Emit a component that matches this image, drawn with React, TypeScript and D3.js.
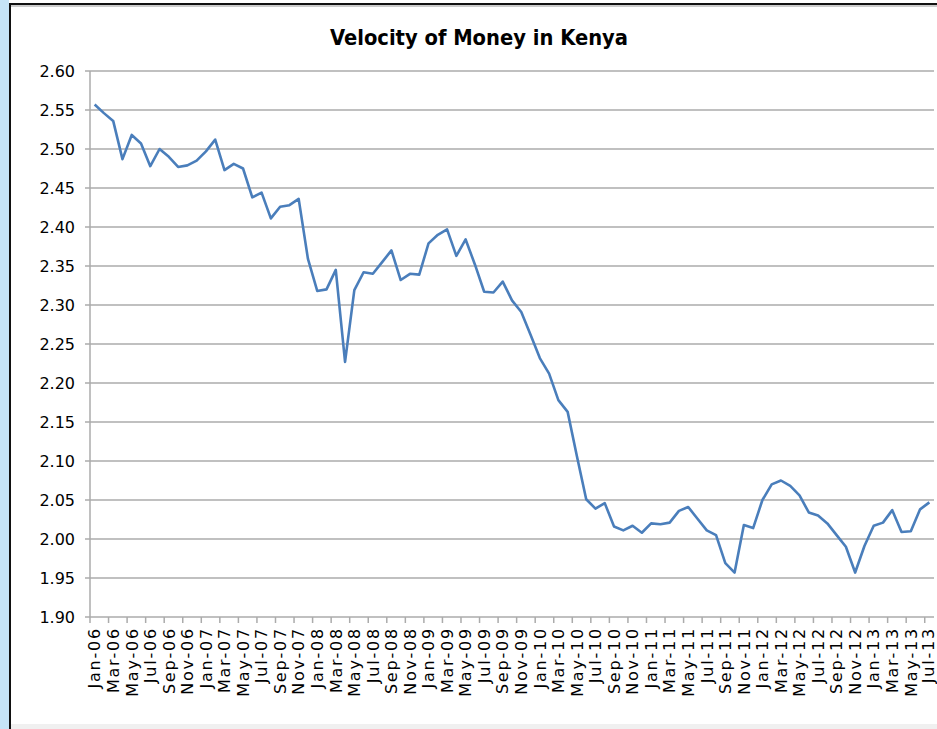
import React, { useEffect, useRef } from 'react';
import * as d3 from 'd3';

// monthly velocity values, Jan-06 .. Jul-13
const monthNames = ['Jan', 'Feb', 'Mar', 'Apr', 'May', 'Jun', 'Jul', 'Aug', 'Sep', 'Oct', 'Nov', 'Dec'];
const years = ['06', '07', '08', '09', '10', '11', '12', '13'];
const velocity = [
  2.557, 2.546, 2.536, 2.487, 2.518, 2.507, 2.478, 2.500, 2.490, 2.477, 2.479, 2.485,
  2.497, 2.512, 2.473, 2.481, 2.475, 2.438, 2.444, 2.411, 2.426, 2.428, 2.436, 2.359,
  2.318, 2.320, 2.345, 2.227, 2.319, 2.342, 2.340, 2.355, 2.370, 2.332, 2.340, 2.339,
  2.379, 2.390, 2.397, 2.363, 2.384, 2.352, 2.317, 2.316, 2.330, 2.306, 2.291, 2.262,
  2.232, 2.212, 2.178, 2.163, 2.106, 2.051, 2.039, 2.046, 2.016, 2.011, 2.017, 2.008,
  2.020, 2.019, 2.021, 2.036, 2.041, 2.026, 2.011, 2.005, 1.969, 1.957, 2.018, 2.014,
  2.050, 2.070, 2.075, 2.068, 2.056, 2.034, 2.030, 2.020, 2.005, 1.990, 1.957, 1.991,
  2.017, 2.021, 2.037, 2.009, 2.010, 2.038, 2.047,
];
const yTicks = [1.9, 1.95, 2.0, 2.05, 2.1, 2.15, 2.2, 2.25, 2.3, 2.35, 2.4, 2.45, 2.5, 2.55, 2.6];

const months: string[] = [];
years.forEach((y) => monthNames.forEach((m) => months.push(`${m}-${y}`)));
const categories = months.slice(0, velocity.length);

const W = 937, H = 729;
const left = 90, right = 934, top = 71, bottom = 617;

export default function App() {
  const ref = useRef<SVGSVGElement>(null);

  useEffect(() => {
    document.body.style.margin = '0';
    const svg = d3.select(ref.current);
    svg.selectAll('*').remove();

    // slide background + chart frame
    svg.append('rect').attr('width', W).attr('height', H).attr('fill', '#ffffff');
    svg.append('rect').attr('x', 0).attr('y', 0).attr('width', 9).attr('height', H).attr('fill', '#c6e4f7');
    svg.append('rect').attr('x', 11).attr('y', 5).attr('width', W - 11).attr('height', 719).attr('fill', '#ffffff');
    svg.append('rect').attr('x', 11).attr('y', 724).attr('width', W - 11).attr('height', 5).attr('fill', '#f0f0f0');
    svg.append('line').attr('x1', 9).attr('x2', W).attr('y1', 4).attr('y2', 4).attr('stroke', '#111').attr('stroke-width', 2);
    svg.append('line').attr('x1', 9).attr('x2', W).attr('y1', 6).attr('y2', 6).attr('stroke', '#999').attr('stroke-width', 1);
    svg.append('line').attr('x1', 10).attr('x2', 10).attr('y1', 3).attr('y2', H).attr('stroke', '#111').attr('stroke-width', 2);

    const x = d3.scaleBand<string>().domain(categories).range([left, right]).padding(0);
    const y = d3.scaleLinear().domain([1.9, 2.6]).range([bottom, top]);

    // gridlines + y ticks
    const g = svg.append('g');
    g.selectAll('line.grid')
      .data(yTicks)
      .enter()
      .append('line')
      .attr('class', 'grid')
      .attr('x1', left - 5)
      .attr('x2', right)
      .attr('y1', (d) => y(d))
      .attr('y2', (d) => y(d))
      .attr('stroke', '#ababab')
      .attr('stroke-width', 1.5);
    g.selectAll('text.ylab')
      .data(yTicks)
      .enter()
      .append('text')
      .attr('class', 'ylab')
      .attr('x', 75)
      .attr('y', (d) => y(d) + 6)
      .attr('text-anchor', 'end')
      .attr('font-family', 'DejaVu Sans')
      .attr('font-size', 16)
      .attr('fill', '#000')
      .text((d) => d.toFixed(2));

    // y axis line
    g.append('line').attr('x1', left).attr('x2', left).attr('y1', top).attr('y2', bottom)
      .attr('stroke', '#ababab').attr('stroke-width', 1.5);

    // x ticks every 2 months at category boundaries
    const tickCats = categories.filter((_, i) => i % 2 === 0);
    g.selectAll('line.xtick')
      .data(tickCats)
      .enter()
      .append('line')
      .attr('class', 'xtick')
      .attr('x1', (d) => x(d)!)
      .attr('x2', (d) => x(d)!)
      .attr('y1', bottom)
      .attr('y2', bottom + 6)
      .attr('stroke', '#ababab')
      .attr('stroke-width', 1.5);
    g.selectAll('text.xlab')
      .data(tickCats)
      .enter()
      .append('text')
      .attr('class', 'xlab')
      .attr('transform', (d) => `translate(${Math.min(x(d)! + x.bandwidth() / 2, 928)},${bottom + 10}) rotate(-90)`)
      .attr('dy', '0.36em')
      .attr('text-anchor', 'end')
      .attr('font-family', 'DejaVu Sans')
      .attr('font-size', 16)
      .attr('letter-spacing', 1.8)
      .attr('fill', '#000')
      .text((d) => d);

    // the series
    const line = d3.line<number>()
      .x((_, i) => x(categories[i])! + x.bandwidth() / 2)
      .y((d) => y(d));
    svg.append('path')
      .datum(velocity)
      .attr('d', line)
      .attr('fill', 'none')
      .attr('stroke', '#4a7ebb')
      .attr('stroke-width', 2.6)
      .attr('stroke-linejoin', 'round');

    // title
    svg.append('text')
      .attr('x', 479)
      .attr('y', 45)
      .attr('text-anchor', 'middle')
      .attr('font-family', 'DejaVu Sans Condensed')
      .attr('font-weight', 'bold')
      .attr('font-size', 22)
      .attr('textLength', 298)
      .attr('lengthAdjust', 'spacingAndGlyphs')
      .attr('fill', '#000')
      .text('Velocity of Money in Kenya');
  }, []);

  return <svg ref={ref} width={W} height={H} style={{ display: 'block' }} />;
}
